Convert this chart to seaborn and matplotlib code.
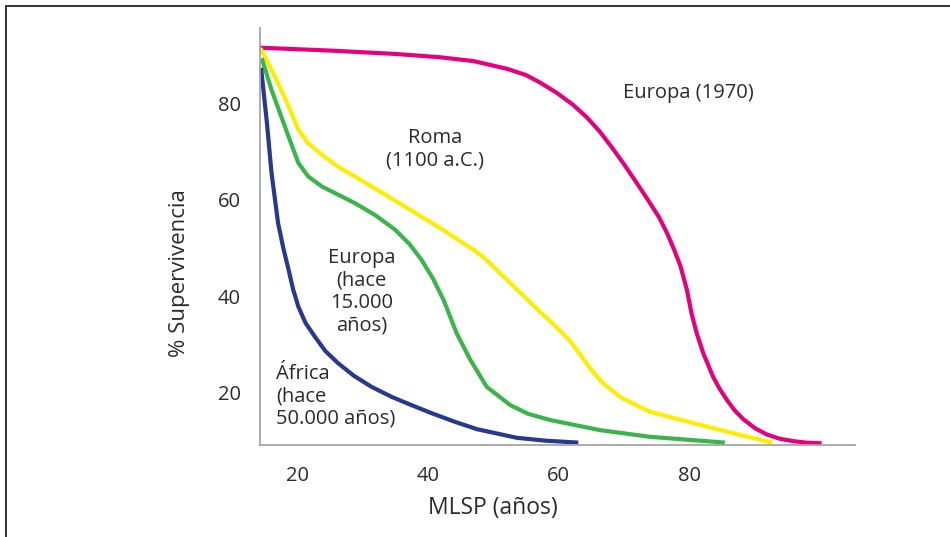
import numpy as np
import pandas as pd
import matplotlib
matplotlib.use("Agg")
import matplotlib.pyplot as plt
from matplotlib.lines import Line2D
import seaborn as sns

# curves (x = MLSP in years, y = % survival)
europa1970_x = [14.3, 25, 35, 41.9, 47.0, 52.1, 55.0, 57.2, 59.7, 62.2, 64.3, 66.3, 68.1, 69.9, 71.7, 73.5, 75.3, 76.6, 77.6, 78.6, 79.6, 80.3, 81.1, 82.1, 83.6, 84.6, 85.7, 86.9, 88.2, 90.0, 91.8, 93.8, 95.9, 97.8, 100.2]
europa1970_y = [91.7, 91.1, 90.4, 89.7, 88.9, 87.3, 86.0, 84.4, 82.3, 79.8, 77.2, 74.2, 71.0, 67.6, 64.0, 60.3, 56.5, 53.0, 49.8, 46.3, 41.3, 36.4, 32.25, 28.1, 23.2, 20.7, 18.4, 16.2, 14.4, 12.5, 11.2, 10.3, 9.8, 9.5, 9.35]

roma_x = [14.4, 16.6, 18.7, 20.2, 21.7, 23.8, 26.3, 31.4, 36.5, 41.7, 47.2, 48.4, 52.6, 57.2, 59.0, 61.5, 63.3, 65.0, 66.8, 69.4, 72.4, 74.0, 81.6, 87.7, 92.6]
roma_y = [91.6, 85.7, 79.5, 74.6, 71.8, 69.4, 66.9, 62.8, 58.6, 54.3, 49.4, 48.2, 42.7, 36.6, 34.4, 31.0, 27.8, 24.6, 21.8, 19.0, 16.9, 15.9, 13.2, 11.1, 9.5]

europa15k_x = [14.6, 16.1, 18.7, 20.2, 21.7, 23.8, 28.9, 32.0, 35.0, 37.2, 39.0, 40.8, 42.4, 44.4, 46.5, 49.0, 52.6, 55.3, 58.7, 66.3, 74.0, 85.4]
europa15k_y = [89.5, 82.9, 73.2, 67.7, 64.9, 62.8, 59.3, 56.8, 53.8, 50.8, 47.6, 43.6, 39.2, 32.25, 26.7, 21.1, 17.3, 15.5, 14.2, 12.1, 10.7, 9.5]

africa_x = [14.5, 15.4, 16.1, 17.1, 17.9, 18.7, 19.4, 20.2, 21.3, 22.7, 24.3, 26.3, 28.7, 31.4, 34.5, 37.5, 40.8, 44.2, 47.5, 53.6, 58.0, 63.0]
africa_y = [87.5, 76.0, 65.6, 55.2, 50.0, 45.5, 41.4, 37.8, 34.4, 31.6, 28.6, 26.0, 23.4, 21.1, 19.0, 17.3, 15.5, 13.8, 12.3, 10.5, 9.9, 9.5]

series = ["Europa (1970)", "Roma", "Europa 15k", "Africa"]
colors = ["#E6007E", "#FFED00", "#3AB54A", "#27398F"]

frames = []
for name, xs, ys in zip(series,
                        [europa1970_x, roma_x, europa15k_x, africa_x],
                        [europa1970_y, roma_y, europa15k_y, africa_y]):
    frames.append(pd.DataFrame({"x": xs, "y": ys, "curva": name}))
df = pd.concat(frames, ignore_index=True)

sns.set_style("white")
plt.rcParams["font.family"] = ["Open Sans", "DejaVu Sans"]

fig = plt.figure(figsize=(9.5, 5.37), dpi=100)
ax = fig.add_axes([0.2737, 0.1713, 0.9 - 0.2737, 0.9479 - 0.1713])

sns.lineplot(data=df, x="x", y="y", hue="curva", hue_order=series,
             palette=colors, sort=False, estimator=None, linewidth=3,
             legend=False, ax=ax)
for ln in ax.lines:
    ln.set_clip_on(False)
    ln.set_solid_capstyle("butt")
    ln.set_solid_joinstyle("round")

ax.set_xlim(14.34, 105.3)
ax.set_ylim(9, 95.8)
ax.set_xticks([20, 40, 60, 80])
ax.set_yticks([20, 40, 60, 80])

grey = "#a6a6a6"
for s in ["top", "right"]:
    ax.spines[s].set_visible(False)
for s in ["left", "bottom"]:
    ax.spines[s].set_color(grey)
    ax.spines[s].set_linewidth(1.3)
ax.tick_params(axis="both", direction="out", length=8, width=1.3, color=grey,
               labelsize=14.5, labelcolor="#2b2b2b", pad=6)
ax.tick_params(axis="x", length=9)

ax.set_xlabel("MLSP (años)", fontsize=16.5, color="#2b2b2b")
ax.set_ylabel("% Supervivencia", fontsize=16, color="#2b2b2b")
ax.xaxis.set_label_coords(0.391, -0.122)
ax.yaxis.set_label_coords(-0.118, 0.4125)

txt = dict(fontsize=14.5, color="#2b2b2b", linespacing=1.15)
ax.text(79.8, 82.3, "Europa (1970)", ha="center", va="center", **txt)
ax.text(41.1, 70.5, "Roma\n(1100 a.C.)", ha="center", va="center", multialignment="center", **txt)
ax.text(29.9, 40.9, "Europa\n(hace\n15.000\naños)", ha="center", va="center", multialignment="center", **txt)
ax.text(16.8, 19.2, "África\n(hace\n50.000 años)", ha="left", va="center", multialignment="left", **txt)

# page frame (top and left rules)
fig.add_artist(Line2D([6 / 950, 6 / 950], [0, 1 - 6 / 537], transform=fig.transFigure,
                      color="#222222", linewidth=1.3))
fig.add_artist(Line2D([6 / 950, 1], [1 - 6 / 537, 1 - 6 / 537], transform=fig.transFigure,
                      color="#222222", linewidth=1.3))

fig.savefig("out.png", dpi=100)
